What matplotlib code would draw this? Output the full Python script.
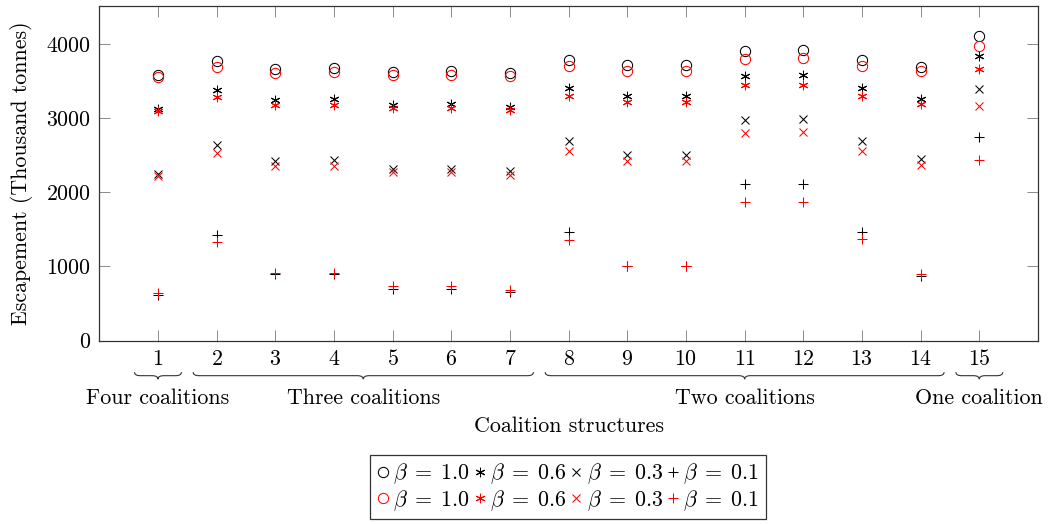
import matplotlib
matplotlib.use("Agg")
import matplotlib.pyplot as plt
import matplotlib.transforms as mtransforms
from matplotlib.path import Path
from matplotlib.patches import PathPatch
import numpy as np

plt.rcParams['font.family'] = 'cmr10'
plt.rcParams['mathtext.fontset'] = 'cm'
plt.rcParams['axes.formatter.use_mathtext'] = True
plt.rcParams['font.size'] = 15.8

structures = np.arange(1, 16)

# escapement (thousand tonnes), black series
black_b10 = [3584, 3764, 3665, 3675, 3621, 3629, 3607, 3777, 3710, 3710, 3898, 3912, 3787, 3688, 4101]
black_b06 = [3122, 3373, 3247, 3257, 3180, 3189, 3149, 3405, 3301, 3301, 3571, 3584, 3405, 3261, 3831]
black_b03 = [2250, 2641, 2425, 2429, 2317, 2317, 2281, 2685, 2506, 2506, 2978, 2987, 2685, 2452, 3392]
black_b01 = [615, 1418, 902, 902, 696, 696, 650, 1464, 1000, 1000, 2111, 2111, 1464, 875, 2745]

# red series
red_b10 = [3553, 3683, 3607, 3621, 3584, 3584, 3562, 3696, 3638, 3638, 3796, 3804, 3706, 3629, 3966]
red_b06 = [3090, 3279, 3180, 3180, 3135, 3135, 3103, 3292, 3216, 3220, 3440, 3450, 3301, 3193, 3665]
red_b03 = [2214, 2529, 2348, 2358, 2273, 2273, 2236, 2560, 2416, 2416, 2799, 2807, 2560, 2371, 3167]
red_b01 = [641, 1329, 911, 911, 731, 735, 677, 1360, 1000, 1000, 1868, 1868, 1369, 902, 2429]

betas = ["1.0", "0.6", "0.3", "0.1"]
groups = [("Four coalitions", 1, 1), ("Three coalitions", 2, 7),
          ("Two coalitions", 8, 14), ("One coalition", 15, 15)]

fig = plt.figure(figsize=(10.54, 5.24), dpi=100)
ax = fig.add_axes([0.0942, 0.3498, 0.8906, 0.6387])

asterisk = (6, 2, 0)
markers = ['o', asterisk, 'x', '+']
sizes = [7.4, 6.8, 5.8, 7.4]

handles = []
for col, series in (("black", [black_b10, black_b06, black_b03, black_b01]),
                    ("red", [red_b10, red_b06, red_b03, red_b01])):
    for m, ms, s, b in zip(markers, sizes, series, betas):
        h, = ax.plot(structures, s, linestyle='none', marker=m, ms=ms,
                     mfc='none', mec=col, mew=0.75, label=r'$\beta\;=\;%s$' % b)
        handles.append(h)

# reorder so legend columns hold black/red pairs
order = []
for i in range(4):
    order += [handles[i], handles[i + 4]]

ax.set_xlim(0, 16)
ax.set_ylim(0, 4510)
ax.set_xticks(structures)
ax.set_yticks([0, 1000, 2000, 3000, 4000])
ax.tick_params(direction='in', length=8, width=0.6, color='#777777',
               top=True, right=True, pad=6)
for sp in ax.spines.values():
    sp.set_color('#333333')
    sp.set_linewidth(0.9)

ax.set_ylabel("Escapement (Thousand tonnes)")
ax.yaxis.set_label_coords(-0.083, 0.5)
ax.yaxis.label.set_va('center')
ax.set_xlabel("Coalition structures")
ax.xaxis.set_label_coords(0.5, -0.255)
ax.xaxis.label.set_va('center')

# curly braces under the axis
trans = mtransforms.blended_transform_factory(ax.transData, ax.transAxes)
y_top, y_bot = -0.094, -0.115
y_mid = (y_top + y_bot) / 2
r = 0.1
for name, a, b in groups:
    x0, x1 = a - 0.4, b + 0.4
    xc = (a + b) / 2
    verts = [(x0, y_top), (x0, y_mid), (x0 + r, y_mid),
             (xc - r, y_mid), (xc, y_mid), (xc, y_bot),
             (xc, y_mid), (xc + r, y_mid),
             (x1 - r, y_mid), (x1, y_mid), (x1, y_top)]
    codes = [Path.MOVETO, Path.CURVE3, Path.CURVE3,
             Path.LINETO, Path.CURVE3, Path.CURVE3,
             Path.CURVE3, Path.CURVE3,
             Path.LINETO, Path.CURVE3, Path.CURVE3]
    ax.add_patch(PathPatch(Path(verts, codes), transform=trans, fc='none',
                           ec='#333333', lw=0.8, clip_on=False))
    ax.text(xc, -0.171, name, transform=trans, ha='center', va='center')

leg = ax.legend(handles=order, ncol=4, loc='upper center',
                bbox_to_anchor=(0.539, 0.132), bbox_transform=fig.transFigure,
                handlelength=0.55, handletextpad=0.2, columnspacing=0.15,
                labelspacing=0.1, borderpad=0.3, borderaxespad=0,
                fancybox=False, framealpha=1, edgecolor='#333333')
leg.get_frame().set_linewidth(0.9)

fig.savefig("out.png", dpi=100)
